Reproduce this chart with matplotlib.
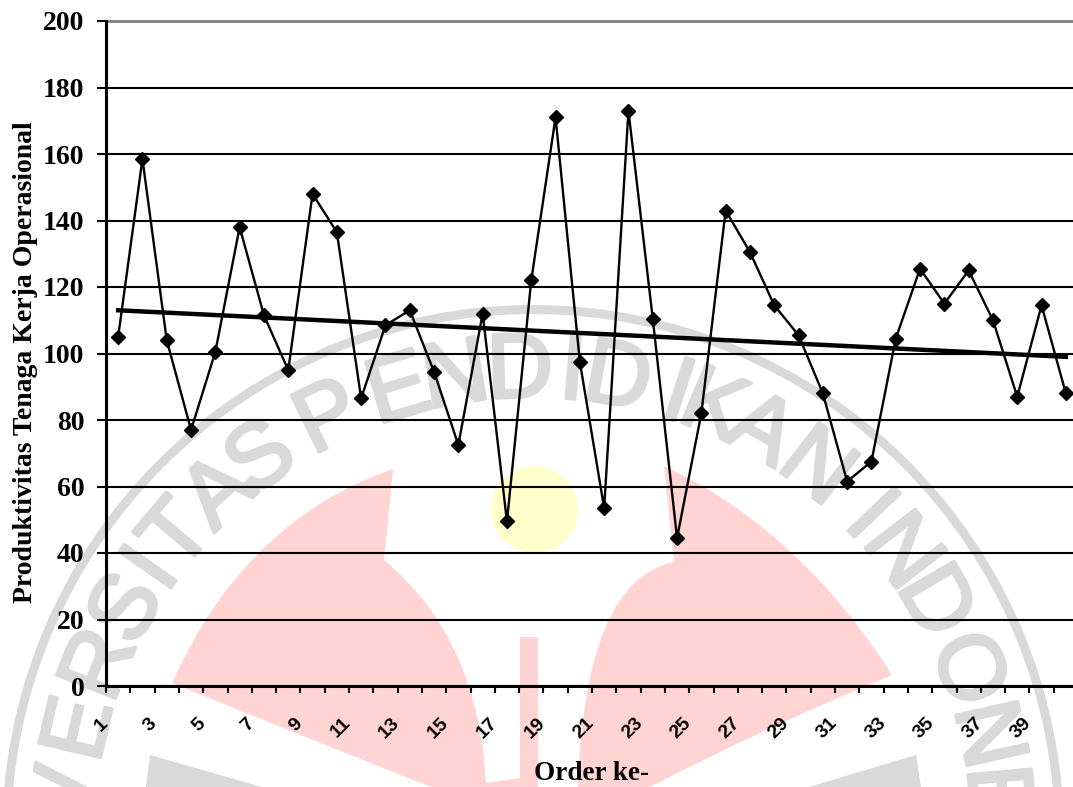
import matplotlib
matplotlib.use('Agg')
import matplotlib.pyplot as plt
import matplotlib.patheffects as pe
from matplotlib.patches import Circle, PathPatch, Polygon, Wedge
from matplotlib.path import Path
import numpy as np

order = list(range(1, 41))
produktivitas = [105, 158.5, 104, 77, 100.5, 138, 111.5, 95, 148, 136.5,
                 86.5, 108.5, 113, 94.5, 72.5, 112, 49.5, 122, 171, 97.5,
                 53.5, 173, 110.5, 44.5, 82, 143, 130.5, 114.5, 105.5, 88,
                 61.5, 67.5, 104.5, 125.5, 115, 125, 110, 87, 114.5, 88]
trend_order = [1, 40]
trend_values = [113, 99]
y_ticks = list(range(0, 201, 20))
x_labels = [str(i) for i in range(1, 41, 2)]

# watermark letters and their angle on the seal (degrees from vertical)
seal_letters = list('VERSITASPENDIDIKANINDONE')
seal_angles = [-85, -76.7, -68.4, -60.8, -55, -49.8, -42.5, -35.8, -26.1, -16.8, -9.6,
               -1.6, 4.9, 10.5, 18.2, 22.8, 29.4, 37.6, 46.5, 52.4, 59.8, 69, 77.4, 85]

W, H = 1073, 787
fig = plt.figure(figsize=(W / 100, H / 100), dpi=100)

# background seal, drawn in pixel coordinates
bg = fig.add_axes([0, 0, 1, 1], zorder=0)
bg.set_xlim(0, W)
bg.set_ylim(H, 0)
bg.axis('off')

grey = '#D9D9D9'
red = '#FFD4D2'
cx, cy = 533, 836
bg.add_patch(Wedge((cx, cy), 531, 0, 360, width=9, color=grey, lw=0))
bg.add_patch(Circle((534.5, 509.5), 43.5, color='#FFFFCC', lw=0))

for letter, ang in zip(seal_letters, seal_angles):
    a = np.radians(ang)
    bg.text(cx + 463 * np.sin(a), cy - 463 * np.cos(a), letter, rotation=-ang,
            rotation_mode='anchor', ha='center', va='center', fontsize=66,
            family='Liberation Sans', color=grey,
            path_effects=[pe.withStroke(linewidth=2.5, foreground=grey)])

C3, L, M = Path.CURVE3, Path.LINETO, Path.MOVETO
left_wing = Path([(393, 469), (245, 520), (172, 683), (300, 735), (431, 787), (486, 787),
                  (480, 640), (384, 560), (393, 469)],
                 [M, C3, C3, C3, C3, L, C3, C3, L])
right_wing = Path([(664, 466), (800, 530), (892, 675), (770, 725), (650, 787), (578, 787),
                   (585, 580), (674, 562), (664, 466)],
                  [M, C3, C3, C3, C3, L, C3, C3, L])
bg.add_patch(PathPatch(left_wing, fc=red, ec='none'))
bg.add_patch(PathPatch(right_wing, fc=red, ec='none'))
bg.add_patch(Polygon([(520, 637), (538, 637), (538, 787), (486, 787), (486, 783), (520, 778)],
                     fc=red, ec='none'))
bg.add_patch(Polygon([(150, 755), (262, 787), (146, 787)], fc=grey, ec='none'))
bg.add_patch(Polygon([(916, 755), (921, 787), (809, 787)], fc=grey, ec='none'))

# chart runs slightly past the right edge of the picture, as in the scan
left, right, top, bottom = 106, 1078, 21, 686
ax = fig.add_axes([left / W, 1 - bottom / H, (right - left) / W, (bottom - top) / H], zorder=1)
ax.patch.set_alpha(0)

ax.plot(order, produktivitas, color='black', linewidth=1.7, marker='D', markersize=7.5,
        clip_on=False, zorder=3)
ax.plot(trend_order, trend_values, color='black', linewidth=3.2, zorder=4)

ax.set_xlim(0.5, 40.5)
ax.set_ylim(0, 200)
ax.set_yticks(y_ticks)
ax.grid(True, axis='y', color='black', linewidth=1.5)
ax.set_axisbelow(True)
for name in ['top', 'right']:
    ax.spines[name].set_visible(False)
ax.spines['left'].set_linewidth(2.2)
ax.spines['bottom'].set_linewidth(2.2)
ax.plot([0.5, 40.5], [200, 200], color='#808080', linewidth=2, clip_on=False, zorder=2)

ax.tick_params(axis='y', length=6.5, width=1.5, pad=9)
for lab in ax.get_yticklabels():
    lab.set_fontsize(20)
    lab.set_family('Liberation Serif')
    lab.set_fontweight('bold')

ax.set_xticks(np.arange(0.5, 41, 1))
ax.set_xticklabels([])
ax.tick_params(axis='x', which='major', length=5, width=1.5)
for cat, label in zip(order[::2], x_labels):
    ax.annotate(label, xy=(cat, 0), xycoords=('data', 'axes fraction'), xytext=(-9, -25),
                textcoords='offset points', rotation=45, ha='right', va='center',
                rotation_mode='anchor', fontsize=14, family='Liberation Sans', fontweight='bold')

fig.text(592 / W, 1 - 774 / H, 'Order ke-', family='Liberation Serif', fontweight='bold',
         fontsize=19.5, ha='center', va='center')
fig.text(26 / W, 1 - 362 / H, 'Produktivitas Tenaga Kerja Operasional', family='Liberation Serif',
         fontweight='bold', fontsize=20, rotation=90, ha='center', va='center')

fig.savefig('out.png', dpi=100)
